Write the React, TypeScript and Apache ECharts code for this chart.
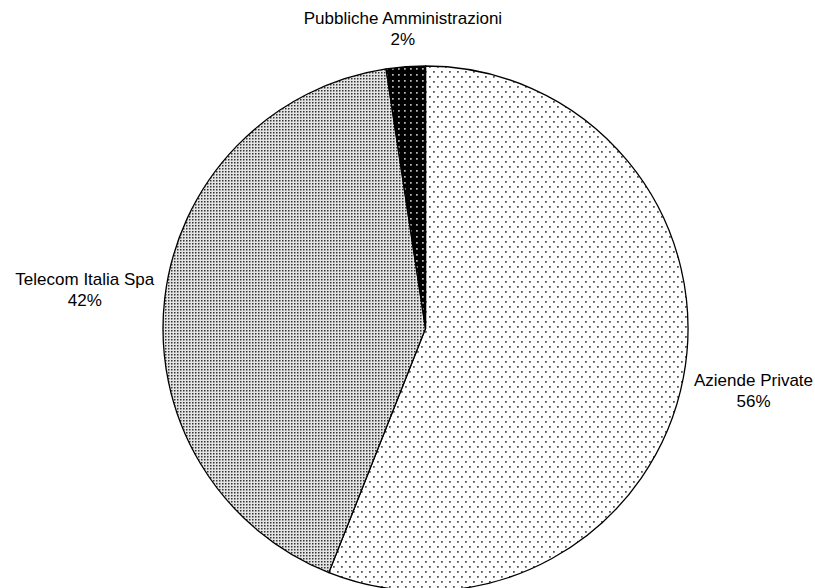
import React, { useEffect, useRef } from 'react';
import * as echarts from 'echarts';

const categories = ['Aziende Private', 'Telecom Italia Spa', 'Pubbliche Amministrazioni'];
const values = [56.0, 41.6, 2.4];

const CX = 425.5;
const CY = 328.5;
const R = 262.5;
const GAP = 9;

type Px = [number, number, string];

function makePattern(w: number, h: number, bg: string, pixels: Px[]) {
  const c = document.createElement('canvas');
  c.width = w;
  c.height = h;
  const ctx = c.getContext('2d')!;
  ctx.fillStyle = bg;
  ctx.fillRect(0, 0, w, h);
  pixels.forEach(([x, y, col]) => {
    ctx.fillStyle = col;
    ctx.fillRect(x, y, 1, 1);
  });
  return { image: c.toDataURL(), repeat: 'repeat', imageWidth: w, imageHeight: h } as any;
}

export default function App() {
  const ref = useRef<HTMLDivElement>(null);
  useEffect(() => {
    document.body.style.margin = '0';
    const chart = echarts.init(ref.current!, undefined, { renderer: 'svg' });

    const sparse = makePattern(8, 10, '#ffffff', [
      [1, 1, '#555'], [2, 1, '#777'], [1, 2, '#777'], [2, 2, '#999'],
      [5, 6, '#555'], [6, 6, '#777'], [5, 7, '#777'], [6, 7, '#999'],
    ]);
    const dense = makePattern(3, 3, '#e4e4e4', [
      [0, 0, '#333'], [1, 0, '#888'], [0, 1, '#888'], [1, 1, '#bbb'],
    ]);
    const dark = makePattern(6, 6, '#000000', [
      [2, 2, '#bbb'], [3, 2, '#888'], [2, 3, '#888'], [3, 3, '#666'],
    ]);
    const fills = [sparse, dense, dark];

    const total = values.reduce((a, b) => a + b, 0);
    const mids: number[] = [];
    let acc = 0;
    values.forEach((v) => {
      mids.push(((acc + v / 2) / total) * Math.PI * 2);
      acc += v;
    });

    chart.setOption({
      animation: false,
      backgroundColor: '#ffffff',
      series: [
        {
          type: 'pie',
          center: [CX, CY],
          radius: [0, R],
          startAngle: 90,
          clockwise: true,
          avoidLabelOverlap: false,
          data: categories.map((name, i) => ({
            name,
            value: values[i],
            itemStyle: { color: fills[i] },
          })),
          itemStyle: { borderColor: '#000000', borderWidth: 1.3 },
          emphasis: { disabled: true },
          label: {
            show: true,
            position: 'outside',
            formatter: (p: any) => `${p.name}\n${Math.round(p.percent)}%`,
            fontFamily: 'Liberation Sans, Arial, sans-serif',
            fontSize: 17,
            lineHeight: 21,
            color: '#000000',
            align: 'center',
          },
          labelLine: { show: false },
          labelLayout: (params: any) => {
            const a = mids[params.dataIndex];
            const dx = Math.sin(a);
            const dy = -Math.cos(a);
            const w = params.labelRect.width;
            const h = params.labelRect.height;
            const d = R + GAP + Math.abs(dx) * w / 2 + Math.abs(dy) * h / 2;
            return {
              x: CX + dx * d,
              y: CY + dy * d,
              align: 'center',
              verticalAlign: 'middle',
            };
          },
        },
      ],
    });
    return () => chart.dispose();
  }, []);
  return <div ref={ref} style={{ width: 815, height: 588 }} />;
}
